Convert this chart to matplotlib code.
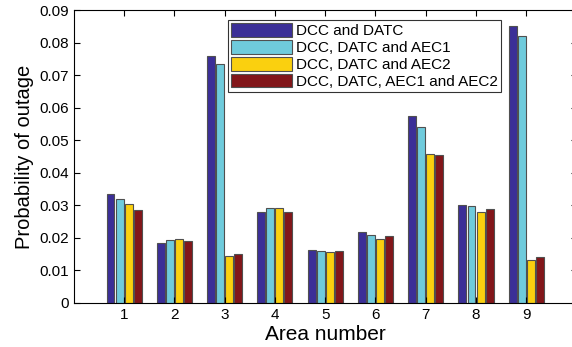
import numpy as np
import matplotlib
matplotlib.use("Agg")
import matplotlib.pyplot as plt

plt.rcParams['font.family'] = ['Liberation Sans', 'DejaVu Sans']

# Data
areas = [1, 2, 3, 4, 5, 6, 7, 8, 9]
series_names = ["DCC and DATC", "DCC, DATC and AEC1",
                "DCC, DATC and AEC2", "DCC, DATC, AEC1 and AEC2"]
dcc_datc = [0.0335, 0.0184, 0.0760, 0.0278, 0.0162, 0.0217, 0.0574, 0.0302, 0.0851]
dcc_datc_aec1 = [0.0319, 0.0193, 0.0735, 0.0291, 0.0160, 0.0208, 0.0541, 0.0298, 0.0820]
dcc_datc_aec2 = [0.0304, 0.0198, 0.0144, 0.0291, 0.0157, 0.0197, 0.0459, 0.0280, 0.0131]
dcc_datc_all = [0.0285, 0.0190, 0.0151, 0.0280, 0.0160, 0.0205, 0.0455, 0.0289, 0.0140]
colors = ["#3b2f97", "#6fcbdc", "#fad00f", "#82161a"]

fig = plt.figure(figsize=(5.72, 3.47), dpi=100)
ax = fig.add_axes([0.129, 0.127, 0.879, 0.844])

x = np.array(areas)
w = 0.18
all_series = [dcc_datc, dcc_datc_aec1, dcc_datc_aec2, dcc_datc_all]
for i, vals in enumerate(all_series):
    ax.bar(x + (i - 1.5) * w, vals, width=w * 0.88, color=colors[i],
           edgecolor="#505050", linewidth=0.8, label=series_names[i])

ax.set_xlim(0, 10)
ax.set_ylim(0, 0.09)
ax.set_xticks(areas)
ax.set_yticks(np.arange(0, 0.091, 0.01))
ax.set_yticklabels(["0"] + ["%.2f" % v for v in np.arange(0.01, 0.091, 0.01)])
ax.tick_params(direction="in", top=True, right=True, labelsize=11, length=4)
ax.set_xlabel("Area number", fontsize=15, labelpad=2)
ax.set_ylabel("Probability of outage", fontsize=14.5, labelpad=4)

leg = ax.legend(loc="upper left", bbox_to_anchor=(0.306, 0.966), fontsize=11,
                frameon=True, fancybox=False, edgecolor="black",
                handlelength=4.0, handleheight=1.0, handletextpad=0.3,
                labelspacing=0.12, borderpad=0.2, borderaxespad=0)
leg.get_frame().set_linewidth(0.8)

fig.savefig("out.png", dpi=100)
